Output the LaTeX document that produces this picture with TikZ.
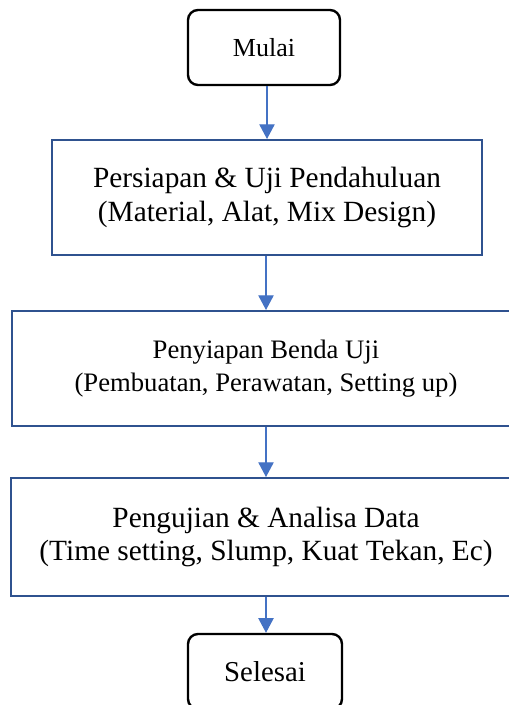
\documentclass[tikz,border=0pt]{standalone}
\usepackage{fontspec}
\setmainfont{Liberation Serif}
\usetikzlibrary{arrows.meta}

\definecolor{boxblue}{RGB}{47,82,143}
\definecolor{flowblue}{RGB}{68,114,196}

\tikzset{every picture/.style={line width=0.75pt}}
\tikzset{
	terminal/.style={draw=black, line width=1.8pt, rounded corners=7.5pt, fill=white,
		minimum width=114pt, minimum height=56.25pt, inner sep=0pt},
	process/.style={draw=boxblue, line width=1.5pt, fill=white, align=center,
		minimum height=86.25pt, inner sep=0pt, font=\fontsize{22}{25.5}\selectfont},
	flow/.style={draw=flowblue, line width=0.9pt,
		-{Triangle[width=11.5pt, length=11pt]}, color=flowblue}}

\begin{document}
\begin{tikzpicture}[x=0.75pt,y=0.75pt,yscale=-1,xscale=1]
	\useasboundingbox (0,0) rectangle (509,705);
	
	% Start / end
	\node [terminal, font=\fontsize{19.5}{22}\selectfont] (start) at (264,47.5) {Mulai};
	\node [terminal, minimum width=115.5pt, font=\fontsize{21.6}{24}\selectfont] (finish) at (265,671.5) {Selesai};
	
	% Process boxes
	\node [process, minimum width=322.5pt] (prep) at (267,197.5)
		{Persiapan \& Uji Pendahuluan\\(Material, Alat, Mix Design)};
	\node [process, minimum width=381pt, font=\fontsize{20}{24.75}\selectfont] (specimen) at (266,368.5)
		{Penyiapan Benda Uji\\(Pembuatan, Perawatan, Setting up)};
	\node [process, minimum width=382.5pt, minimum height=88.5pt, font=\fontsize{22}{24.75}\selectfont] (test) at (266,537)
		{Pengujian \& Analisa Data\\(Time setting, Slump, Kuat Tekan, Ec)};
	
	% Arrows
	\draw [flow] (start.south -| prep.north) -- (prep.north);
	\draw [flow] (prep.south -| specimen.north) -- (specimen.north);
	\draw [flow] (specimen.south) -- (test.north);
	\draw [flow] (test.south) -- (test.south |- finish.north);
	
\end{tikzpicture}
\end{document}
